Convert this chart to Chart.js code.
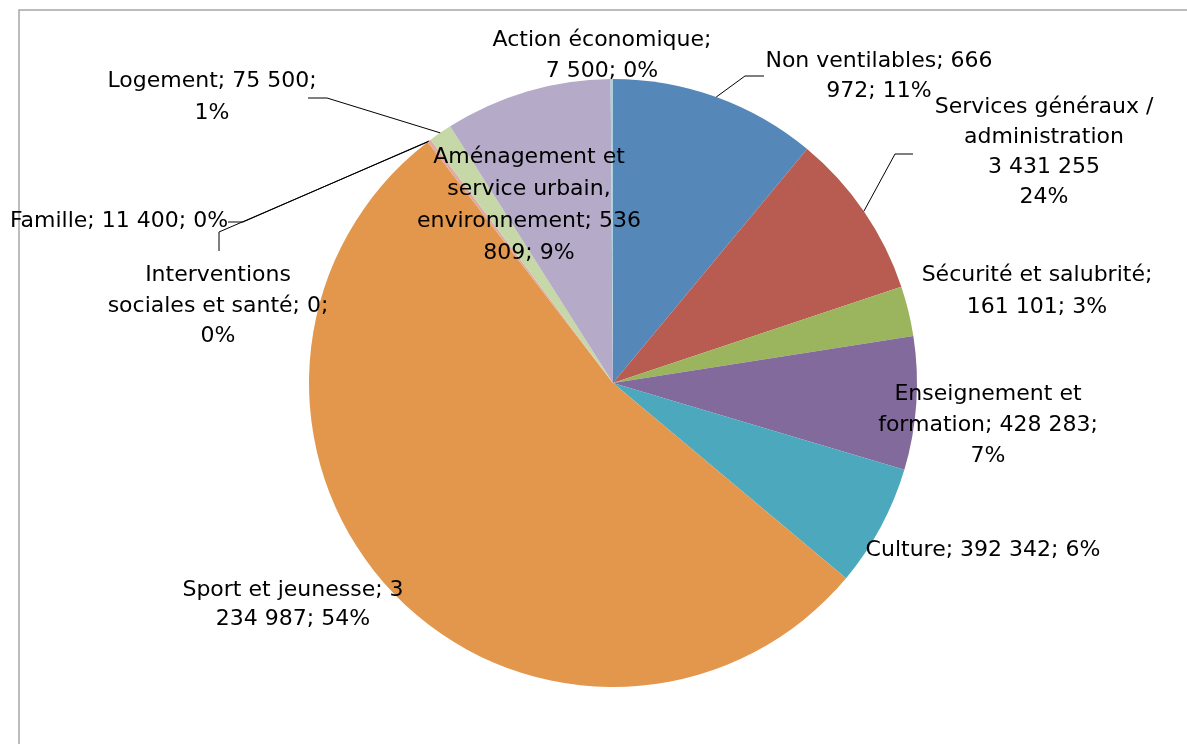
<!DOCTYPE html>
<html>
<head>
<meta charset="utf-8">
<script src="https://cdn.jsdelivr.net/npm/chart.js@4/dist/chart.umd.min.js"></script>
<style>
  html, body { margin: 0; padding: 0; background: #fff; }
  #wrap { width: 1187px; height: 744px; position: relative; }
</style>
</head>
<body>
<div id="wrap"><canvas id="pieChart" width="1187" height="744"></canvas></div>
<script>
// categories (pie order, clockwise from 12 o'clock)
const categories = [
  'Non ventilables', 'Services généraux / administration', 'Sécurité et salubrité',
  'Enseignement et formation', 'Culture', 'Sport et jeunesse',
  'Interventions sociales et santé', 'Famille', 'Logement',
  'Aménagement et service urbain, environnement', 'Action économique'
];
// slice values (services slice, its label says otherwise)
const values = [666972, 535000, 161101, 428283, 392342, 3234987, 0, 11400, 75500, 536809, 7500];

// data label text as printed on the chart
const labelLines = [
  ['Non ventilables; 666', '972; 11%'],
  ['Services généraux /', 'administration', '3 431 255', '24%'],
  ['Sécurité et salubrité;', '161 101; 3%'],
  ['Enseignement et', 'formation; 428 283;', '7%'],
  ['Culture; 392 342; 6%'],
  ['Sport et jeunesse; 3', '234 987; 54%'],
  ['Interventions', 'sociales et santé; 0;', '0%'],
  ['Famille; 11 400; 0%'],
  ['Logement; 75 500;', '1%'],
  ['Aménagement et', 'service urbain,', 'environnement; 536', '809; 9%'],
  ['Action économique;', '7 500; 0%']
];

const colors = [
  '#5587b8', '#b85c52', '#9bb45e', '#836a9c', '#4ba8bd', '#e3974d',
  '#a9bfdc', '#e0a9a6', '#c6d7a8', '#b5aac8', '#a7d3de'
];

// where each label sits: centre x, first baseline, line height
const labelPos = [
  { x: 879, y: 67, lh: 30 },
  { x: 1044, y: 113, lh: 30 },
  { x: 1037, y: 281, lh: 32 },
  { x: 988, y: 400, lh: 31 },
  { x: 983, y: 556, lh: 30 },
  { x: 293, y: 596, lh: 29 },
  { x: 218, y: 281, lh: 30.5 },
  { x: 119, y: 227, lh: 30 },
  { x: 212, y: 87, lh: 32 },
  { x: 529, y: 163, lh: 32 },
  { x: 602, y: 46, lh: 31 }
];

// leader lines: elbow point and end point (start comes from the arc)
const leaders = {
  0: [[745, 76], [764, 76]],
  1: [[895, 154], [913, 154]],
  6: [[219, 232], [219, 251]],
  7: [[243, 222], [228, 222]],
  8: [[327, 98], [308, 98]]
};

// frame round the chart area, cut by the window
const framePlugin = {
  id: 'frame',
  beforeDraw(chart) {
    const ctx = chart.ctx;
    ctx.save();
    ctx.strokeStyle = '#a6a6a6';
    ctx.lineWidth = 1.5;
    ctx.beginPath();
    ctx.moveTo(19, 744);
    ctx.lineTo(19, 10);
    ctx.lineTo(1187, 10);
    ctx.stroke();
    ctx.restore();
  }
};

const labelPlugin = {
  id: 'pieLabels',
  afterDatasetsDraw(chart) {
    const ctx = chart.ctx;
    const arcs = chart.getDatasetMeta(0).data;
    ctx.save();
    // leader lines
    ctx.strokeStyle = '#000';
    ctx.lineWidth = 1;
    Object.keys(leaders).forEach(k => {
      const arc = arcs[k];
      const mid = (arc.startAngle + arc.endAngle) / 2;
      const sx = arc.x + Math.cos(mid) * arc.outerRadius;
      const sy = arc.y + Math.sin(mid) * arc.outerRadius;
      ctx.beginPath();
      ctx.moveTo(sx, sy);
      leaders[k].forEach(p => ctx.lineTo(p[0], p[1]));
      ctx.stroke();
    });
    // text
    ctx.fillStyle = '#000';
    ctx.font = '22px "DejaVu Sans", sans-serif';
    ctx.textAlign = 'center';
    ctx.textBaseline = 'alphabetic';
    labelLines.forEach((lines, i) => {
      const p = labelPos[i];
      lines.forEach((t, j) => ctx.fillText(t, p.x, p.y + j * p.lh));
    });
    ctx.restore();
  }
};

new Chart(document.getElementById('pieChart').getContext('2d'), {
  type: 'pie',
  data: {
    labels: categories,
    datasets: [{
      data: values,
      backgroundColor: colors,
      borderWidth: 0
    }]
  },
  options: {
    responsive: false,
    animation: false,
    layout: { padding: { top: 79, bottom: 57, left: 309, right: 270 } },
    plugins: {
      legend: { display: false },
      tooltip: { enabled: false }
    }
  },
  plugins: [framePlugin, labelPlugin]
});
</script>
</body>
</html>
